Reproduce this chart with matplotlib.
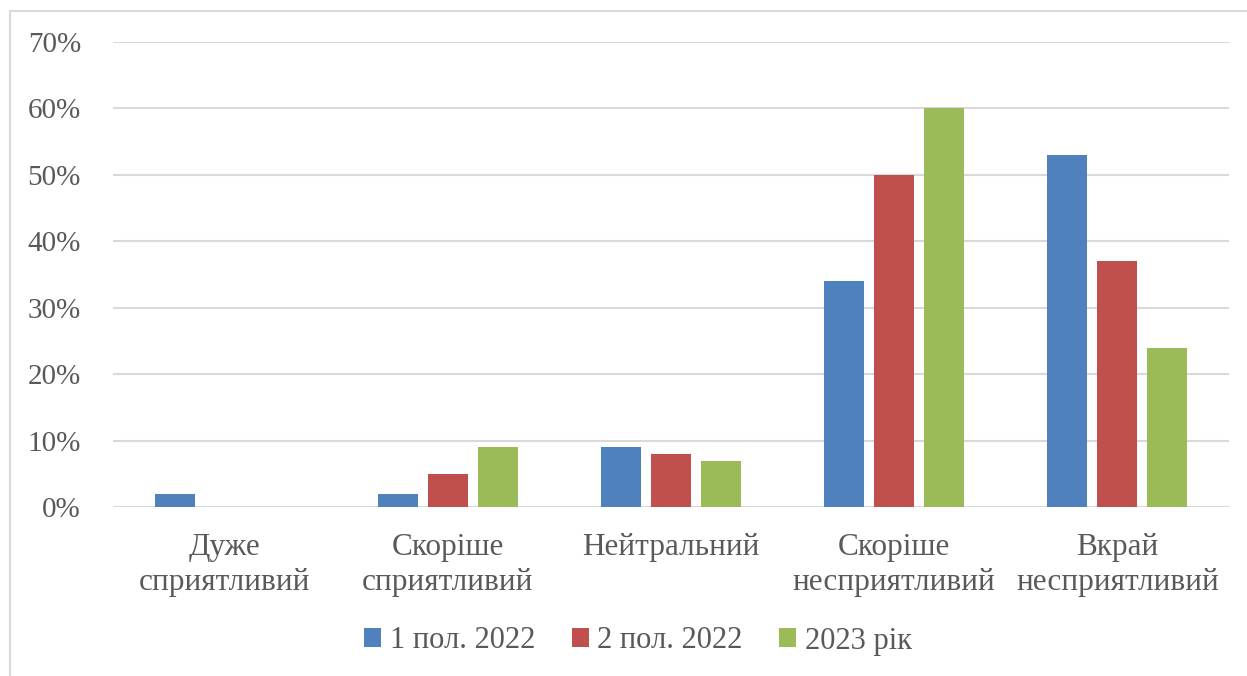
import matplotlib.pyplot as plt
import numpy as np
from matplotlib.patches import Rectangle

# Data (percent)
categories = ["Дуже\nсприятливий", "Скоріше\nсприятливий", "Нейтральний",
              "Скоріше\nнесприятливий", "Вкрай\nнесприятливий"]
series_names = ["1 пол. 2022", "2 пол. 2022", "2023 рік"]
h1_2022 = [2, 2, 9, 34, 53]
h2_2022 = [0, 5, 8, 50, 37]
y2023 = [0, 9, 7, 60, 24]
colors = ["#4F81BD", "#C0504D", "#9BBB59"]

plt.rcParams["font.family"] = ["Liberation Serif", "DejaVu Serif"]
text_color = "#595959"

fig = plt.figure(figsize=(12.47, 6.76), dpi=100)
ax = fig.add_axes([113 / 1247, 1 - 507 / 676, (1229 - 113) / 1247, (507 - 42) / 676])

# Outer chart frame
fig.patches.append(Rectangle((10 / 1247, -0.1), 1.2, 1 - 11 / 676 + 0.1,
                             transform=fig.transFigure, fill=False,
                             edgecolor="#D9D9D9", linewidth=1.5))

x = np.arange(len(categories))
width = 0.179
offset = 0.224
for i, (vals, name) in enumerate(zip([h1_2022, h2_2022, y2023], series_names)):
    ax.bar(x + (i - 1) * offset, vals, width, color=colors[i], label=name, zorder=3)

ax.set_xlim(-0.5, len(categories) - 0.5)
ax.set_ylim(0, 70)
ax.set_yticks(range(0, 71, 10))
ax.set_yticklabels([f"{v}%" for v in range(0, 71, 10)])
ax.yaxis.grid(True, color="#D9D9D9", linewidth=1.5, zorder=0)
ax.set_xticks(x)
ax.set_xticklabels(categories, linespacing=1.25)

for s in ax.spines.values():
    s.set_visible(False)
ax.tick_params(axis="both", length=0, colors=text_color)
ax.tick_params(axis="y", pad=23, labelsize=21)
ax.tick_params(axis="x", pad=19, labelsize=22.5)

fig.legend(loc="center", bbox_to_anchor=(638 / 1247, 1 - 641 / 676), ncol=3,
           frameon=False, fontsize=22, labelcolor=text_color,
           handlelength=0.56, handleheight=0.56, handletextpad=0.28,
           columnspacing=1.2)

fig.savefig("out.png", dpi=100)
